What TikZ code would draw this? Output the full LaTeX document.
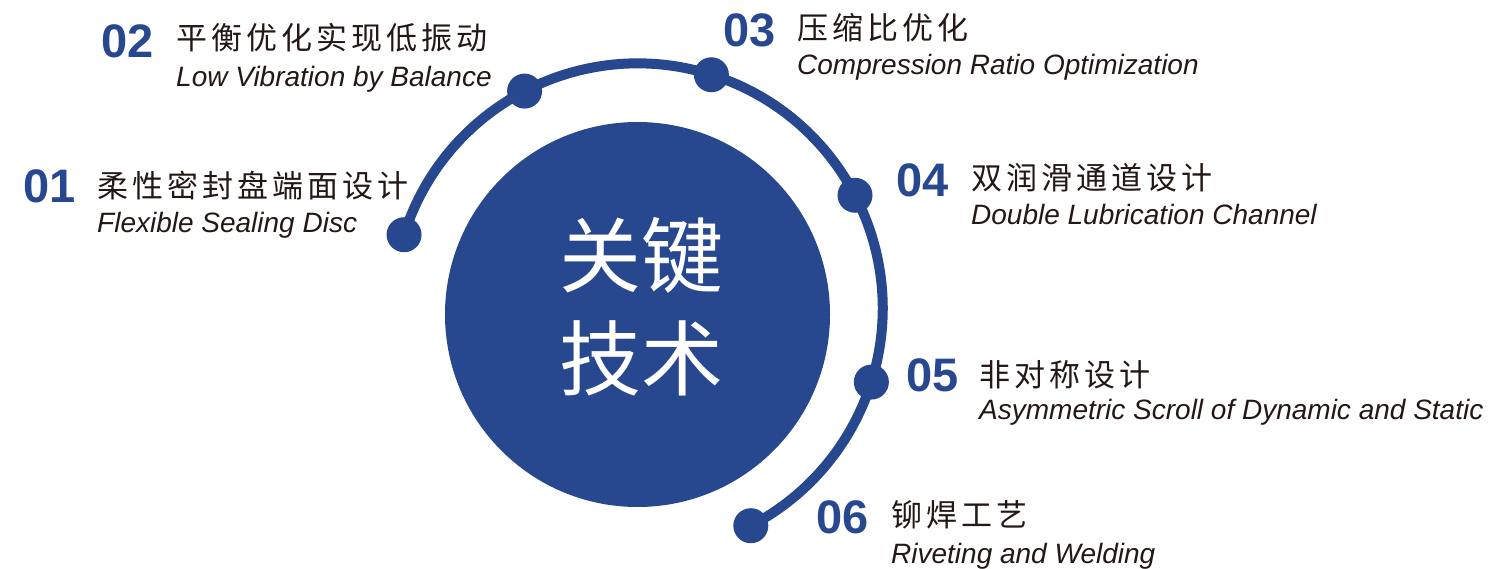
\documentclass[tikz,border=0pt]{standalone}
\usepackage{fontspec}
\setmainfont{Liberation Sans}
\newfontfamily\cjk{Noto Sans CJK SC}
\newfontfamily\cjkwide{Noto Sans CJK SC}[LetterSpace=13]
\definecolor{keyblue}{RGB}{39,71,143}
\definecolor{inkdark}{RGB}{35,24,21}

\begin{document}
\begin{tikzpicture}[x=1pt,y=1pt,
    num/.style={anchor=base west,inner sep=0pt,text=keyblue,font=\fontsize{47}{47}\selectfont\bfseries},
    zh/.style={anchor=west,inner sep=0pt,text=inkdark,font=\fontsize{31}{31}\selectfont\cjkwide},
    en/.style={anchor=base west,inner sep=0pt,text=inkdark,font=\fontsize{28}{28}\selectfont\itshape},
    dot/.style={circle,fill=keyblue,inner sep=0pt,minimum size=35pt}]
    \useasboundingbox (0,0) rectangle (1489,568);

    % centre disc
    \node[circle,fill=keyblue,inner sep=0pt,minimum size=385pt] (core) at (637.5,253.5) {};
    \node[text=white,align=center,inner sep=0pt,font=\fontsize{82}{103}\selectfont\cjk] (title) at (641,261) {关键\\技术};

    % ring with dots
    \coordinate (ringc) at (637.7,259.6);
    \draw[keyblue,line width=10pt] ([shift={(162.5:245)}]ringc) arc[start angle=162.5,end angle=-62.5,radius=245];
    \foreach \i [evaluate=\i as \ang using 207.5-45*\i] in {1,...,6}
        \node[dot] (d\i) at ([shift={(\ang:245)}]ringc) {};

    % 01
    \node[num] (n1) at (23,365) {01};
    \node[zh] (z1) at (97,382) {柔性密封盘端面设计};
    \node[en] (e1) at (97,335) {Flexible Sealing Disc};

    % 02
    \node[num] (n2) at (101,510) {02};
    \node[zh] (z2) at (176,530) {平衡优化实现低振动};
    \node[en] (e2) at (176,481) {Low Vibration by Balance};

    % 03
    \node[num] (n3) at (723,521) {03};
    \node[zh] (z3) at (797,540.5) {压缩比优化};
    \node[en] (e3) at (797,493) {Compression Ratio Optimization};

    % 04
    \node[num] (n4) at (896,371) {04};
    \node[zh] (z4) at (971,390.5) {双润滑通道设计};
    \node[en] (e4) at (971,343) {Double Lubrication Channel};

    % 05
    \node[num] (n5) at (906,176) {05};
    \node[zh] (z5) at (979,193) {非对称设计};
    \node[en] (e5) at (979,148) {Asymmetric Scroll of Dynamic and Static};

    % 06
    \node[num] (n6) at (816,35) {06};
    \node[zh] (z6) at (891,53) {铆焊工艺};
    \node[en] (e6) at (891,5) {Riveting and Welding};
\end{tikzpicture}
\end{document}
